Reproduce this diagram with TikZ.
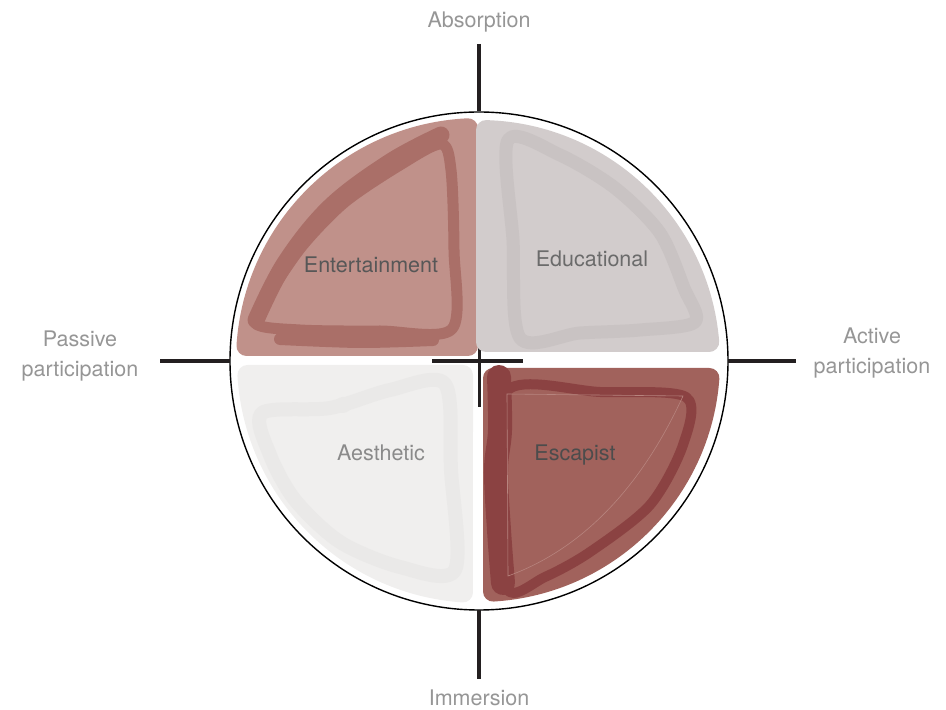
\documentclass[tikz,border=0pt]{standalone}
\usepackage{fontspec}
\setmainfont{TeX Gyre Heros}
\usepackage{xcolor}
\usepackage{tikz}
\definecolor{entfill}{HTML}{C0918A}
\definecolor{entline}{HTML}{AA6F68}
\definecolor{edufill}{HTML}{D2CCCC}
\definecolor{eduline}{HTML}{C9C3C3}
\definecolor{aesfill}{HTML}{F0EFEE}
\definecolor{aesline}{HTML}{EAE9E8}
\definecolor{escfill}{HTML}{A1625C}
\definecolor{escline}{HTML}{8B4242}
\definecolor{escthin}{HTML}{B7847E}
\definecolor{axisgray}{HTML}{231F20}
\definecolor{lblgray}{HTML}{969696}

\begin{document}
\begin{tikzpicture}[x=1pt, y=1pt,
        axis/.style={draw=axisgray, line width=3.6pt},
        quadfill/.style={line width=20pt, line join=round},
        hand/.style={line width=#1, line cap=round, line join=round},
        lbl/.style={text=lblgray, align=center, font=\fontsize{21.5}{30}\selectfont},
        qlbl/.style={font=\fontsize{21.5}{24}\selectfont}
    ]
        \useasboundingbox (0,0) rectangle (946,710);

        \coordinate (o) at (479,349);
        \coordinate (cl) at (432,349);
        \coordinate (cr) at (523,349);
        \coordinate (ct) at (479,395);
        \coordinate (cb) at (479,303);
        \draw[axis] (cl) -- (cr);
        \draw[axis, line width=3pt] (ct) -- (cb);

        \filldraw[quadfill, fill=entfill, draw=entfill] (468,364) -- (468,581.7)
            arc[start angle=92.7, end angle=176.3, radius=233] -- cycle;
        \filldraw[quadfill, fill=edufill, draw=edufill] (486,368) -- (486,579.9)
            arc[start angle=88.26, end angle=4.72, radius=231] -- cycle;
        \filldraw[quadfill, fill=aesfill, draw=aesfill] (463,335) -- (247.4,335)
            arc[start angle=183.46, end angle=266.05, radius=232] -- cycle;
        \filldraw[quadfill, fill=escfill, draw=escfill] (493,332) -- (709.4,332)
            arc[start angle=-4.22, end angle=-86.53, radius=231] -- cycle;

        \draw[hand=11pt, entline] plot[smooth cycle, tension=0.5] coordinates
            {(441,566) (400,545) (345,508) (303,465) (272,420) (255,387)
             (300,380) (380,379) (452,381) (454,460) (451,540)};
        \draw[hand=17pt, entline] plot[smooth, tension=0.6] coordinates
            {(256,390) (285,447) (330,503) (390,548) (441,575)};
        \draw[hand=12pt, entline] plot[smooth] coordinates
            {(280,371) (360,368) (433,370)};

        \draw[hand=13pt, eduline] plot[smooth cycle, tension=0.5] coordinates
            {(508,570) (560,555) (615,522) (660,477) (684,422) (695,388)
             (640,380) (580,377) (520,372) (513,470)};

        \draw[hand=14pt, aesline] plot[smooth cycle, tension=0.5] coordinates
            {(262,297) (330,302) (390,320) (445,326) (451,240) (455,140)
             (400,143) (340,168) (295,210) (270,255)};
        \fill[aesline] (343,305) circle[radius=8];

        \draw[hand=24pt, escline] plot[smooth, tension=0.6] coordinates
            {(499,333) (500,280) (496,240) (499,180) (503,127)};
        \draw[hand=10pt, escline] plot[smooth cycle, tension=0.5] coordinates
            {(508,320) (600,318) (686,313) (683,265) (650,205) (590,158)
             (545,133) (507,121) (503,220)};
        \draw[escthin, line width=0.6pt] (507,316) -- (683,314)
            .. controls (640,220) and (580,160) .. (508,134) -- cycle;

        \draw[line width=1.4pt] (o) circle[radius=249];

        \coordinate (abstop) at (479,666);
        \coordinate (absend) at (479,599);
        \coordinate (immtop) at (479,100);
        \coordinate (immend) at (479,31);
        \coordinate (pasend) at (160,349);
        \coordinate (pastop) at (230,349);
        \coordinate (acttop) at (728,349);
        \coordinate (actend) at (796,349);
        \draw[axis] (abstop) -- (absend);
        \draw[axis] (immtop) -- (immend);
        \draw[axis] (pasend) -- (pastop);
        \draw[axis] (acttop) -- (actend);

        \node[lbl] (absorption) at (479,688) {Absorption};
        \node[lbl] (immersion)  at (479,12)  {Immersion};
        \node[lbl] (passive)    at (80,354)  {Passive\\participation};
        \node[lbl] (active)     at (872,357) {Active\\participation};

        \node[qlbl, text=black!66] (entertainment) at (371,445) {Entertainment};
        \node[qlbl, text=black!58] (educational)   at (592,451) {Educational};
        \node[qlbl, text=black!46] (aesthetic)     at (381,257) {Aesthetic};
        \node[qlbl, text=black!70] (escapist)      at (575,255) {Escapist};
    \end{tikzpicture}
\end{document}
